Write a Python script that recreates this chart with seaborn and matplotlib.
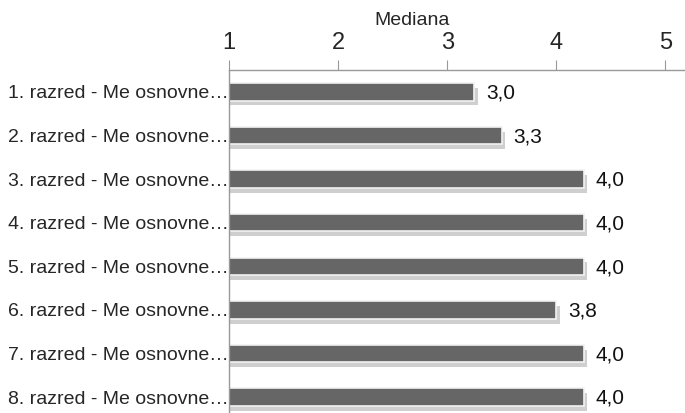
import numpy as np
import pandas as pd
import matplotlib
matplotlib.use("Agg")
import matplotlib.pyplot as plt
import matplotlib.patheffects as pe
import seaborn as sns

# ── Dados ────────────────────────────────────────────────────────────────────
categorias = [f"{i}. razred - Me osnovne…" for i in range(1, 9)]
medianas   = [3.0, 3.25, 4.0, 4.0, 4.0, 3.75, 4.0, 4.0]
# comprimento desenhado das barras (como aparece no gráfico original)
barras     = [3.25, 3.5, 4.25, 4.25, 4.25, 4.0, 4.25, 4.25]
rotulos    = ["3,0", "3,3", "4,0", "4,0", "4,0", "3,8", "4,0", "4,0"]
ticks_x    = [1, 2, 3, 4, 5]

df = pd.DataFrame({"categoria": categorias, "barra": barras})

# ── Estilo ───────────────────────────────────────────────────────────────────
sns.set_style("white")
plt.rcParams["font.family"] = ["Liberation Sans", "DejaVu Sans"]

fig = plt.figure(figsize=(6.85, 4.13), dpi=100)
ax = fig.add_axes([229 / 685, 1 - 419 / 413, 1 - 229 / 685, 349 / 413])

sns.barplot(data=df, x="barra", y="categoria", orient="h", color="#666666",
            width=0.4, saturation=1, ax=ax, edgecolor="#f2f2f2", linewidth=1.2)

for p in ax.patches:
    p.set_path_effects([
        pe.SimplePatchShadow(offset=(2.5, -3.5), shadow_rgbFace="#888888", alpha=0.4),
        pe.Normal(),
    ])

for i, (v, txt) in enumerate(zip(barras, rotulos)):
    ax.text(v + 0.11, i + 0.03, txt, va="center", ha="left", fontsize=15, color="#111111")

ax.set_xlim(1, 5.18)
ax.set_ylim(len(categorias) - 0.5, -0.5)

ax.xaxis.tick_top()
ax.xaxis.set_label_position("top")
ax.set_xticks(ticks_x)
ax.set_xticklabels([str(t) for t in ticks_x], fontsize=17)
ax.set_xlabel("Mediana", fontsize=14, labelpad=0)
ax.xaxis.set_label_coords(0.401, 1.128)
ax.set_ylabel("")

ax.set_yticks(np.arange(-0.5, len(categorias), 1), minor=True)
ax.tick_params(axis="y", which="major", length=0, labelsize=14, pad=0)
ax.tick_params(axis="y", which="minor", length=6, color="#999999", direction="out")
ax.tick_params(axis="x", which="major", length=7, color="#999999", direction="out", pad=4.5)

for s in ["right", "bottom"]:
    ax.spines[s].set_visible(False)
for s in ["top", "left"]:
    ax.spines[s].set_color("#999999")
    ax.spines[s].set_linewidth(1)

fig.savefig("out.png", dpi=100)
